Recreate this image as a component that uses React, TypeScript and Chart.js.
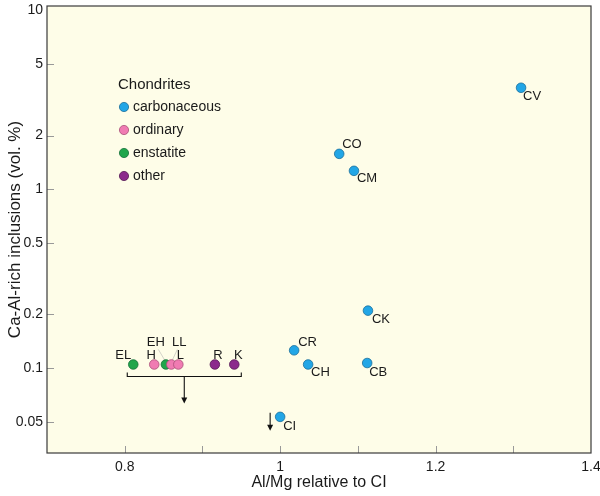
import React, { useEffect, useRef } from "react";
import { Chart, registerables } from "chart.js";

Chart.register(...registerables);

// ---------- data ----------
const carbonaceousNames = ["CI", "CM", "CO", "CV", "CK", "CR", "CH", "CB"];
const carbonaceousAlMg = [1.0, 1.095, 1.076, 1.31, 1.113, 1.018, 1.036, 1.112];
const carbonaceousCAI = [0.0535, 1.27, 1.58, 3.7, 0.21, 0.126, 0.105, 0.107];

const ordinaryNames = ["H", "LL", "L"];
const ordinaryAlMg = [0.838, 0.86, 0.869];
const ordinaryCAI = [0.105, 0.105, 0.105];

const enstatiteNames = ["EL", "EH"];
const enstatiteAlMg = [0.811, 0.853];
const enstatiteCAI = [0.105, 0.105];

const otherNames = ["R", "K"];
const otherAlMg = [0.916, 0.941];
const otherCAI = [0.105, 0.105];

const groupLabels = ["carbonaceous", "ordinary", "enstatite", "other"];
const legendTitle = "Chondrites";

const xTicks = [0.8, 0.9, 1.0, 1.1, 1.2, 1.3, 1.4];
const xTickLabels = ["0.8", "", "1", "", "1.2", "", "1.4"];
const yTicks = [0.05, 0.1, 0.2, 0.5, 1, 2, 5, 10];
const yTickLabels = ["0.05", "0.1", "0.2", "0.5", "1", "2", "5", "10"];

const xTitle = "Al/Mg relative to CI";
const yTitle = "Ca-Al-rich inclusions (vol. %)";

// ---------- styles ----------
const FONT = "'Liberation Sans', Arial, Helvetica, sans-serif";
const BG = "#fefde8";
const COLORS = ["#22a6e6", "#f07bb2", "#20a64b", "#8c2a8c"];
const BORDERS = ["#1a6f9a", "#a85078", "#15703a", "#561a56"];

// label placement [dx, dy, align]
const LABEL_POS: Record<string, [number, number, CanvasTextAlign]> = {
  CV: [2, 9, "left"],
  CO: [3, -9, "left"],
  CM: [3, 8, "left"],
  CK: [4, 9, "left"],
  CR: [4, -8, "left"],
  CH: [3, 8, "left"],
  CB: [2, 9, "left"],
  CI: [3, 10, "left"],
  EL: [-10, -9, "center"],
  H: [-3, -9, "center"],
  L: [2, -9, "center"],
  R: [3, -9, "center"],
  K: [4, -9, "center"],
  EH: [-10, -22, "center"],
  LL: [8, -22, "center"],
};
const LEADERS = ["EH", "LL"];

function mk(names: string[], xs: number[], ys: number[]) {
  return xs.map((x, i) => ({ x, y: ys[i], name: names[i] }));
}

function arrow(ctx: CanvasRenderingContext2D, x: number, y0: number, y1: number) {
  ctx.beginPath();
  ctx.moveTo(x, y0);
  ctx.lineTo(x, y1 - 5);
  ctx.stroke();
  ctx.beginPath();
  ctx.moveTo(x - 3, y1 - 6);
  ctx.lineTo(x + 3, y1 - 6);
  ctx.lineTo(x, y1);
  ctx.closePath();
  ctx.fill();
}

const decorPlugin = {
  id: "decor",
  beforeDraw(chart: any) {
    const { ctx, chartArea: a } = chart;
    ctx.save();
    ctx.fillStyle = BG;
    ctx.fillRect(a.left, a.top, a.right - a.left, a.bottom - a.top);
    ctx.restore();
  },
  beforeDatasetsDraw(chart: any) {
    const { ctx } = chart;
    ctx.save();
    ctx.strokeStyle = "#c8c8c0";
    ctx.lineWidth = 0.8;
    chart.data.datasets.forEach((ds: any, di: number) => {
      const meta = chart.getDatasetMeta(di);
      ds.data.forEach((d: any, j: number) => {
        if (!LEADERS.includes(d.name)) return;
        const p = meta.data[j];
        const [dx, dy] = LABEL_POS[d.name];
        ctx.beginPath();
        ctx.moveTo(p.x + dx * 0.75, p.y + dy + 7);
        ctx.lineTo(p.x + dx * 0.1, p.y - 4);
        ctx.stroke();
      });
    });
    ctx.restore();
  },
  afterDatasetsDraw(chart: any) {
    const { ctx, chartArea: a } = chart;
    ctx.save();
    // point labels
    ctx.fillStyle = "#1a1a1a";
    ctx.font = `13px ${FONT}`;
    ctx.textBaseline = "middle";
    const groupPx: number[] = [];
    let groupY = 0;
    chart.data.datasets.forEach((ds: any, di: number) => {
      const meta = chart.getDatasetMeta(di);
      ds.data.forEach((d: any, j: number) => {
        const p = meta.data[j];
        const pos = LABEL_POS[d.name];
        if (pos) {
          ctx.textAlign = pos[2];
          ctx.fillText(d.name, p.x + pos[0], p.y + pos[1]);
        }
        if (di > 0) {
          groupPx.push(p.x);
          groupY = p.y;
        }
      });
    });
    // bracket under non-carbonaceous group
    ctx.strokeStyle = "#111";
    ctx.fillStyle = "#111";
    ctx.lineWidth = 1.1;
    const bl = Math.min(...groupPx) - 6;
    const br = Math.max(...groupPx) + 7;
    const by = groupY + 12;
    const bm = (bl + br) / 2;
    ctx.beginPath();
    ctx.moveTo(bl, by - 4);
    ctx.lineTo(bl, by);
    ctx.lineTo(br, by);
    ctx.lineTo(br, by - 4);
    ctx.stroke();
    arrow(ctx, bm, by, by + 27);
    // arrow by CI
    const ciMeta = chart.getDatasetMeta(0);
    const ciIdx = chart.data.datasets[0].data.findIndex((d: any) => d.name === "CI");
    const ci = ciMeta.data[ciIdx];
    arrow(ctx, ci.x - 10, ci.y - 4, ci.y + 14);

    // legend
    const lx = a.left + 71;
    const ly = a.top + 79;
    ctx.textAlign = "left";
    ctx.fillStyle = "#1a1a1a";
    ctx.font = `15px ${FONT}`;
    ctx.fillText(legendTitle, lx, ly);
    ctx.font = `14px ${FONT}`;
    chart.data.datasets.forEach((ds: any, di: number) => {
      const y = ly + 22 + di * 23;
      ctx.beginPath();
      ctx.arc(lx + 6, y, 4.6, 0, Math.PI * 2);
      ctx.fillStyle = ds.backgroundColor;
      ctx.fill();
      ctx.lineWidth = 0.8;
      ctx.strokeStyle = ds.borderColor;
      ctx.stroke();
      ctx.fillStyle = "#1a1a1a";
      ctx.fillText(ds.label, lx + 15, y);
    });
    ctx.restore();
  },
  afterDraw(chart: any) {
    const { ctx, chartArea: a, scales } = chart;
    ctx.save();
    ctx.strokeStyle = "#999";
    ctx.lineWidth = 1;
    scales.x.ticks.forEach((t: any) => {
      const px = Math.round(scales.x.getPixelForValue(t.value)) + 0.5;
      if (px < a.left + 2 || px > a.right - 2) return;
      ctx.beginPath();
      ctx.moveTo(px, a.bottom);
      ctx.lineTo(px, a.bottom - 7);
      ctx.stroke();
    });
    scales.y.ticks.forEach((t: any) => {
      const py = Math.round(scales.y.getPixelForValue(t.value)) + 0.5;
      if (py < a.top + 7 || py > a.bottom - 2) return;
      ctx.beginPath();
      ctx.moveTo(a.left, py);
      ctx.lineTo(a.left + 7, py);
      ctx.stroke();
    });
    ctx.strokeStyle = "#3a3a3a";
    ctx.lineWidth = 1.2;
    ctx.strokeRect(a.left, a.top, a.right - a.left, a.bottom - a.top);
    ctx.restore();
  },
};

export default function App() {
  const ref = useRef<HTMLCanvasElement | null>(null);
  useEffect(() => {
    if (!ref.current) return;
    const groups = [
      mk(carbonaceousNames, carbonaceousAlMg, carbonaceousCAI),
      mk(ordinaryNames, ordinaryAlMg, ordinaryCAI),
      mk(enstatiteNames, enstatiteAlMg, enstatiteCAI),
      mk(otherNames, otherAlMg, otherCAI),
    ];
    const chart = new Chart(ref.current, {
      type: "scatter",
      data: {
        datasets: groups.map((g, i) => ({
          label: groupLabels[i],
          data: g,
          backgroundColor: COLORS[i],
          borderColor: BORDERS[i],
          borderWidth: 0.8,
          pointRadius: 4.8,
          pointHoverRadius: 4.8,
        })),
      },
      options: {
        animation: false,
        responsive: true,
        maintainAspectRatio: false,
        layout: { padding: { top: 6, right: 9, left: 0, bottom: 0 } },
        plugins: { legend: { display: false }, tooltip: { enabled: false } },
        scales: {
          x: {
            type: "linear",
            min: 0.7,
            max: 1.4,
            grid: { display: false, drawTicks: false },
            border: { display: false },
            afterBuildTicks: (s: any) => {
              s.ticks = xTicks.map((v) => ({ value: v }));
            },
            afterFit: (s: any) => {
              s.height = 43;
              s.paddingLeft = 0;
              s.paddingRight = 0;
            },
            ticks: {
              autoSkip: false,
              maxRotation: 0,
              padding: 6,
              color: "#1a1a1a",
              font: { family: FONT, size: 14 },
              callback: (v: any) => {
                const i = xTicks.findIndex((t) => Math.abs(t - Number(v)) < 1e-6);
                return i >= 0 ? xTickLabels[i] : "";
              },
            },
            title: {
              display: true,
              text: xTitle,
              color: "#1a1a1a",
              font: { family: FONT, size: 16 },
              padding: { top: 0, bottom: 4 },
            },
          },
          y: {
            type: "logarithmic",
            min: 0.0336,
            max: 10.6,
            grid: { display: false, drawTicks: false },
            border: { display: false },
            afterBuildTicks: (s: any) => {
              s.ticks = yTicks.map((v) => ({ value: v }));
            },
            afterFit: (s: any) => {
              s.width = 47;
              s.paddingTop = 0;
              s.paddingBottom = 0;
            },
            ticks: {
              autoSkip: false,
              padding: 4,
              color: "#1a1a1a",
              font: { family: FONT, size: 14 },
              callback: (v: any) => {
                const i = yTicks.findIndex((t) => Math.abs(t - Number(v)) < 1e-9);
                return i >= 0 ? yTickLabels[i] : "";
              },
            },
            title: {
              display: true,
              text: yTitle,
              color: "#1a1a1a",
              font: { family: FONT, size: 17 },
              padding: { top: 5, bottom: 0 },
            },
          },
        },
      },
      plugins: [decorPlugin],
    });
    return () => chart.destroy();
  }, []);
  return (
    <div style={{ position: "absolute", left: 0, top: 0, width: 600, height: 496, background: "#fff" }}>
      <canvas ref={ref} />
    </div>
  );
}
